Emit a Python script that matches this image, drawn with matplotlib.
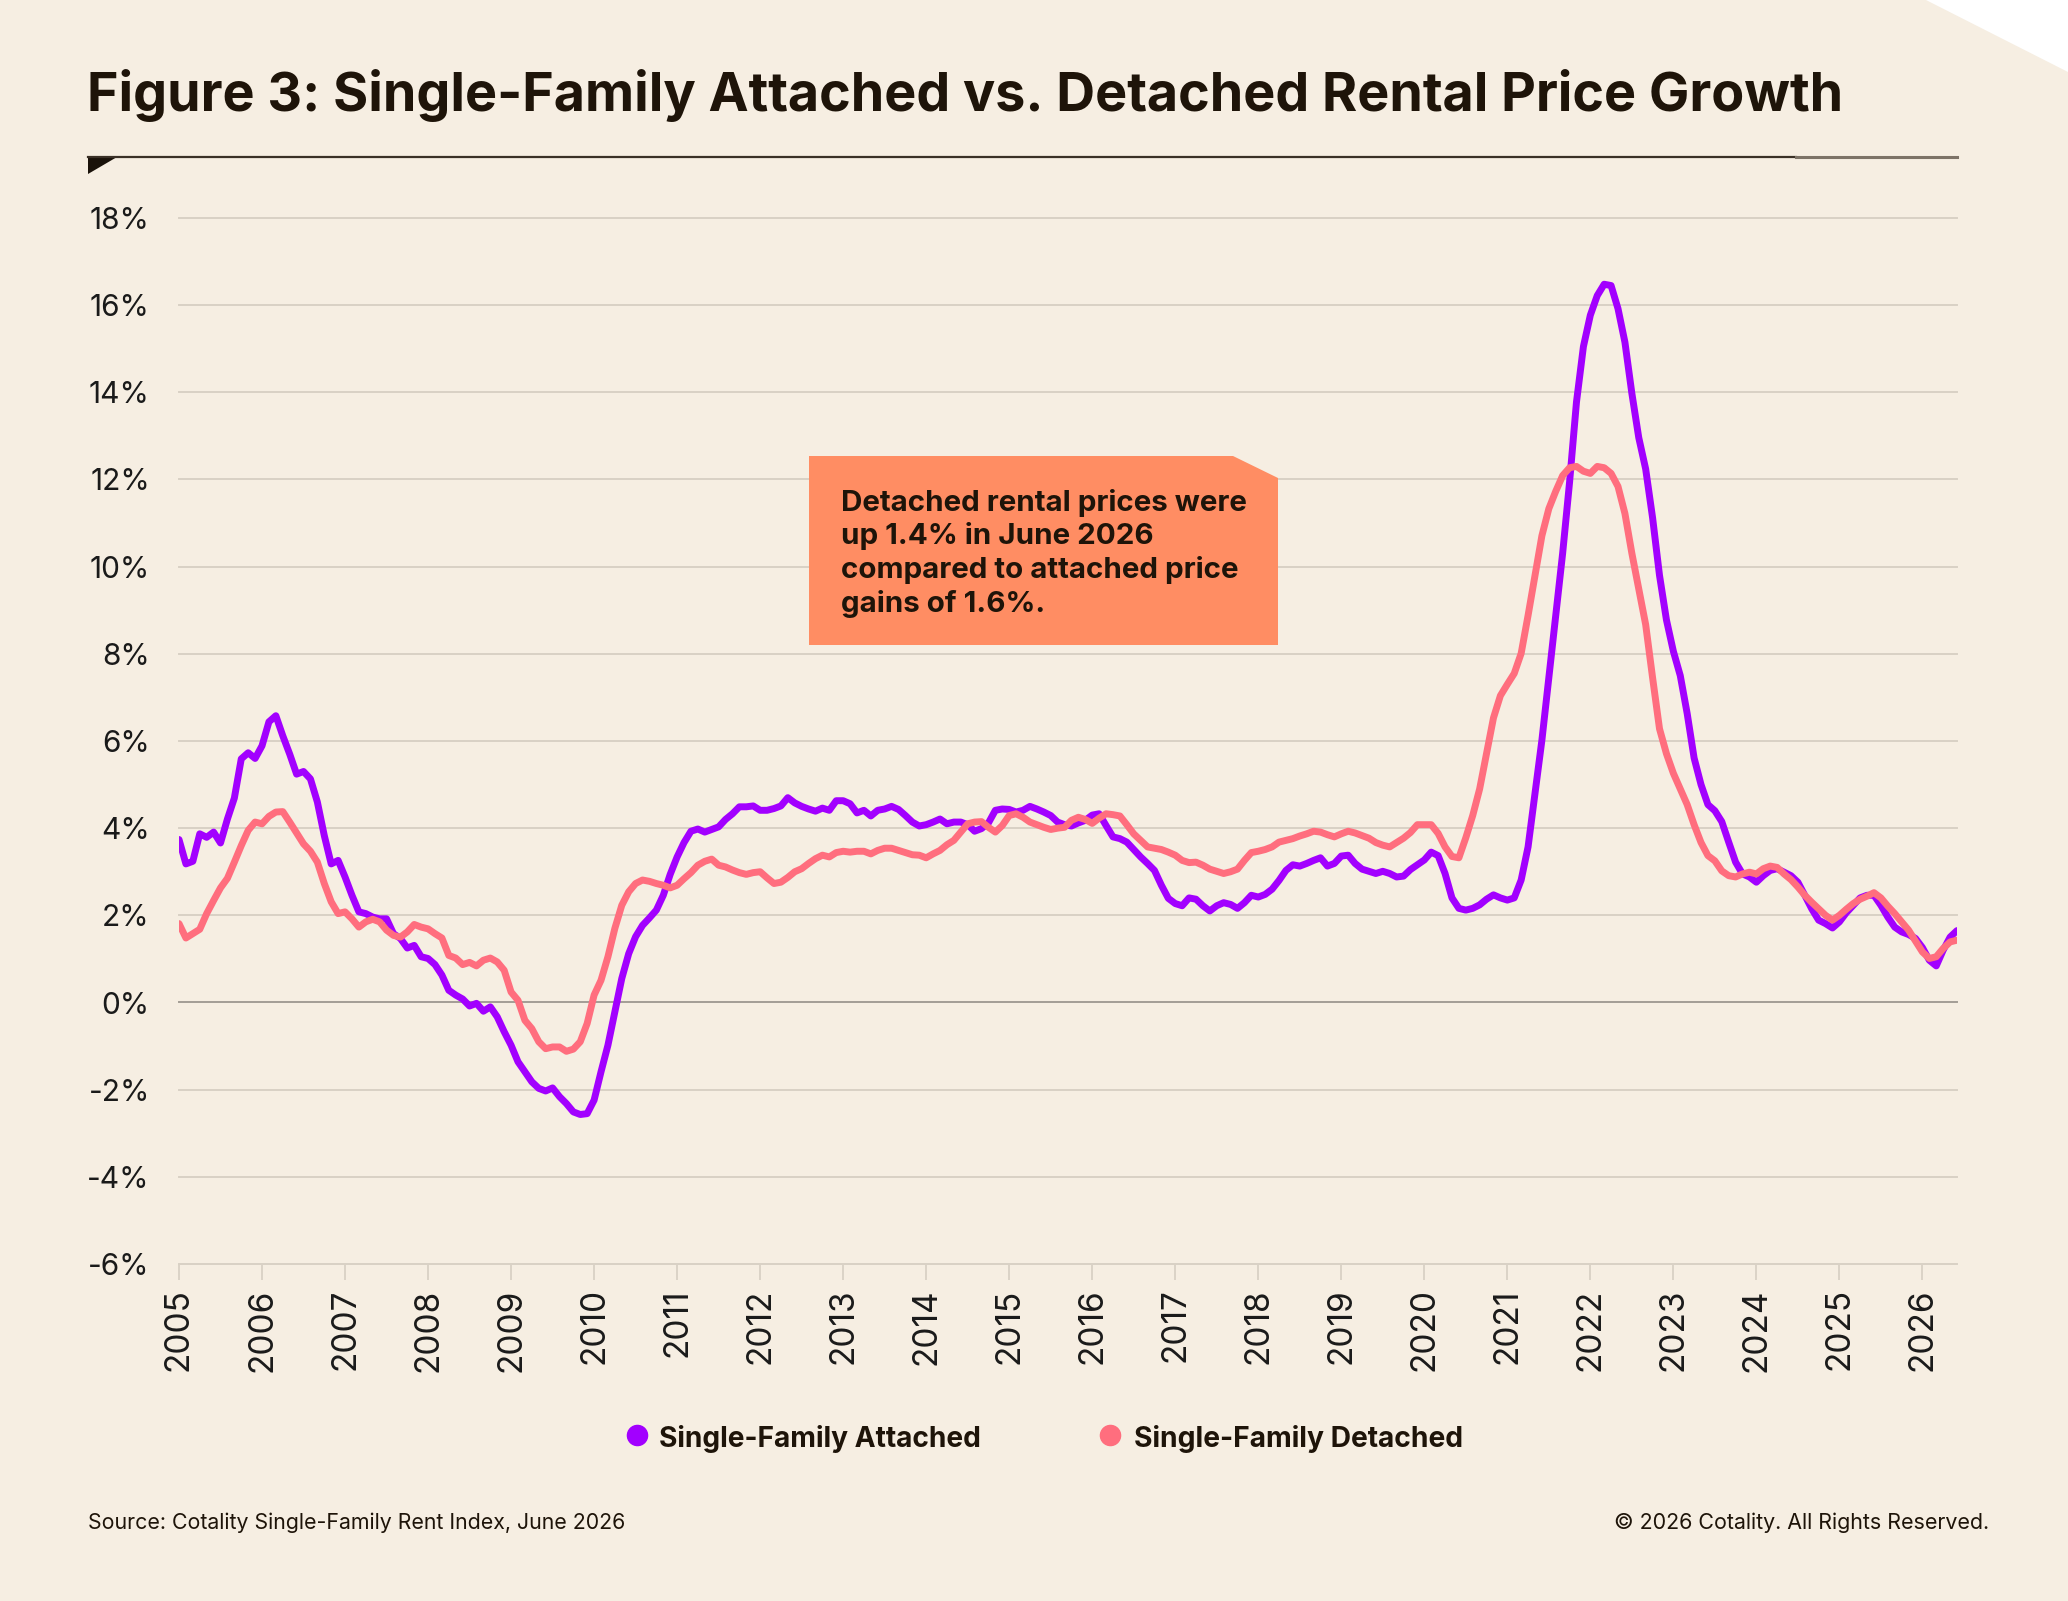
import numpy as np
import matplotlib.pyplot as plt
from matplotlib.lines import Line2D
from matplotlib.patches import Polygon

plt.rcParams['font.family'] = ['Inter', 'DejaVu Sans']

# monthly YoY rent growth (%), Jan 2005 .. Jun 2026
start_year = 2005
attached = [
    3.74, 3.18, 3.24, 3.87, 3.79, 3.91, 3.66, 4.21, 4.69, 5.59, 5.73, 5.60,   # 2005
    5.89, 6.44, 6.58, 6.12, 5.70, 5.24, 5.30, 5.13, 4.60, 3.83, 3.18, 3.26,   # 2006
    2.88, 2.46, 2.08, 2.04, 1.96, 1.92, 1.92, 1.58, 1.47, 1.25, 1.31, 1.05,   # 2007
    1.01, 0.87, 0.63, 0.28, 0.17, 0.08, -0.08, -0.02, -0.20, -0.10, -0.33, -0.67,  # 2008
    -0.98, -1.36, -1.59, -1.82, -1.97, -2.03, -1.96, -2.16, -2.32, -2.51, -2.57, -2.55,  # 2009
    -2.24, -1.59, -0.98, -0.21, 0.55, 1.12, 1.51, 1.77, 1.94, 2.12, 2.46, 2.94,  # 2010
    3.34, 3.67, 3.93, 3.98, 3.91, 3.97, 4.03, 4.20, 4.33, 4.49, 4.49, 4.51,   # 2011
    4.41, 4.41, 4.45, 4.51, 4.70, 4.58, 4.50, 4.44, 4.39, 4.46, 4.41, 4.63,   # 2012
    4.63, 4.56, 4.35, 4.41, 4.28, 4.41, 4.44, 4.50, 4.43, 4.29, 4.14, 4.05,   # 2013
    4.08, 4.14, 4.21, 4.10, 4.14, 4.14, 4.08, 3.93, 3.99, 4.12, 4.41, 4.44,   # 2014
    4.43, 4.37, 4.41, 4.50, 4.44, 4.37, 4.29, 4.14, 4.08, 4.05, 4.12, 4.18,   # 2015
    4.30, 4.33, 4.06, 3.80, 3.76, 3.68, 3.51, 3.34, 3.19, 3.03, 2.69, 2.39,   # 2016
    2.27, 2.22, 2.40, 2.37, 2.22, 2.10, 2.22, 2.29, 2.25, 2.16, 2.29, 2.46,   # 2017
    2.42, 2.48, 2.60, 2.80, 3.03, 3.16, 3.13, 3.19, 3.26, 3.32, 3.13, 3.19,   # 2018
    3.36, 3.38, 3.19, 3.06, 3.01, 2.96, 3.01, 2.96, 2.88, 2.90, 3.05, 3.16,   # 2019
    3.27, 3.45, 3.37, 2.96, 2.40, 2.16, 2.12, 2.16, 2.24, 2.37, 2.47, 2.40,   # 2020
    2.35, 2.40, 2.81, 3.57, 4.80, 6.02, 7.45, 8.88, 10.31, 11.94, 13.78, 15.05,  # 2021
    15.77, 16.22, 16.48, 16.45, 15.92, 15.15, 13.98, 12.96, 12.24, 11.12, 9.80, 8.78,  # 2022
    8.06, 7.50, 6.63, 5.61, 5.00, 4.54, 4.40, 4.15, 3.68, 3.22, 2.95, 2.88,   # 2023
    2.76, 2.91, 3.03, 3.07, 2.99, 2.91, 2.76, 2.46, 2.15, 1.89, 1.81, 1.71,   # 2024
    1.85, 2.06, 2.23, 2.40, 2.46, 2.46, 2.23, 1.96, 1.73, 1.62, 1.56, 1.47,   # 2025
    1.26, 0.97, 0.84, 1.20, 1.50, 1.65,                                       # 2026
]
detached = [
    1.81, 1.48, 1.58, 1.68, 2.04, 2.34, 2.63, 2.85, 3.22, 3.60, 3.95, 4.14,   # 2005
    4.10, 4.27, 4.37, 4.38, 4.14, 3.89, 3.64, 3.47, 3.22, 2.73, 2.31, 2.04,   # 2006
    2.08, 1.92, 1.73, 1.85, 1.91, 1.85, 1.66, 1.54, 1.50, 1.62, 1.79, 1.73,   # 2007
    1.69, 1.58, 1.48, 1.08, 1.02, 0.87, 0.92, 0.84, 0.97, 1.02, 0.93, 0.74,   # 2008
    0.24, 0.05, -0.41, -0.60, -0.90, -1.06, -1.02, -1.02, -1.12, -1.07, -0.90, -0.48,  # 2009
    0.17, 0.51, 1.05, 1.70, 2.23, 2.54, 2.73, 2.81, 2.78, 2.73, 2.69, 2.63,   # 2010
    2.69, 2.84, 2.98, 3.15, 3.24, 3.29, 3.15, 3.11, 3.04, 2.98, 2.94, 2.98,   # 2011
    3.00, 2.86, 2.73, 2.76, 2.87, 3.00, 3.07, 3.19, 3.30, 3.38, 3.34, 3.44,   # 2012
    3.47, 3.45, 3.47, 3.47, 3.41, 3.49, 3.54, 3.54, 3.49, 3.44, 3.39, 3.38,   # 2013
    3.32, 3.41, 3.49, 3.62, 3.72, 3.91, 4.10, 4.14, 4.15, 4.02, 3.91, 4.06,   # 2014
    4.29, 4.33, 4.25, 4.14, 4.08, 4.02, 3.97, 4.00, 4.02, 4.18, 4.25, 4.20,   # 2015
    4.11, 4.23, 4.33, 4.31, 4.28, 4.08, 3.87, 3.72, 3.57, 3.54, 3.51, 3.45,   # 2016
    3.38, 3.26, 3.21, 3.22, 3.15, 3.06, 3.01, 2.96, 3.00, 3.06, 3.26, 3.44,   # 2017
    3.47, 3.51, 3.57, 3.68, 3.72, 3.76, 3.82, 3.87, 3.93, 3.91, 3.85, 3.80,   # 2018
    3.87, 3.93, 3.89, 3.83, 3.77, 3.67, 3.61, 3.57, 3.67, 3.77, 3.90, 4.08,   # 2019
    4.08, 4.08, 3.88, 3.57, 3.35, 3.32, 3.78, 4.29, 4.90, 5.71, 6.53, 7.04,   # 2020
    7.30, 7.55, 8.01, 8.88, 9.80, 10.71, 11.33, 11.73, 12.09, 12.27, 12.30, 12.19,  # 2021
    12.14, 12.30, 12.27, 12.14, 11.84, 11.22, 10.31, 9.49, 8.67, 7.45, 6.28, 5.71,  # 2022
    5.26, 4.90, 4.54, 4.08, 3.67, 3.37, 3.25, 3.02, 2.91, 2.88, 2.95, 2.99,   # 2023
    2.95, 3.07, 3.13, 3.10, 2.95, 2.82, 2.65, 2.46, 2.30, 2.15, 2.00, 1.89,   # 2024
    2.00, 2.14, 2.27, 2.37, 2.44, 2.52, 2.40, 2.21, 2.04, 1.85, 1.66, 1.41,   # 2025
    1.16, 1.01, 1.05, 1.24, 1.39, 1.43,                                       # 2026
]
year_ticks = list(range(2005, 2027))
pct_ticks = list(range(-6, 19, 2))

title = 'Figure 3: Single-Family Attached vs. Detached Rental Price Growth'
note_lines = ['Detached rental prices were', 'up 1.4% in June 2026',
              'compared to attached price', 'gains of 1.6%.']
series_names = ['Single-Family Attached', 'Single-Family Detached']
source = 'Source: Cotality Single-Family Rent Index, June 2026'
rights = '\u00a9 2026 Cotality. All Rights Reserved.'

bg = '#F6EEE2'
ink = '#1E1409'
purple = '#A200FF'
pink = '#FF6E7E'
grid_c = '#D9D1C5'
zero_c = '#A39D95'
box_c = '#FF8D63'

W, H = 2068, 1601
def fx(px):
    return px / W
def fy(py):
    return 1 - py / H

fig = plt.figure(figsize=(W / 100, H / 100), dpi=100, facecolor=bg)
renderer = fig.canvas.get_renderer()

def fit(t, width_px):
    bb = t.get_window_extent(renderer)
    t.set_fontsize(t.get_fontsize() * width_px / bb.width)

# white corner wedge
fig.add_artist(Polygon([(fx(1926), fy(0)), (fx(2068), fy(0)), (fx(2068), fy(72))],
                       closed=True, transform=fig.transFigure, color='white', lw=0))

t = fig.text(fx(87), fy(96), title, fontsize=40, weight='bold', color=ink, va='center')
fit(t, 1758)

# rule under title
fig.add_artist(Line2D([fx(88), fx(1796)], [fy(157), fy(157)], transform=fig.transFigure,
                      color='#3A3026', lw=1.6))
fig.add_artist(Line2D([fx(1796), fx(1957)], [fy(157), fy(157)], transform=fig.transFigure,
                      color='#7D7367', lw=2.2))
fig.add_artist(Polygon([(fx(88), fy(157)), (fx(117), fy(157)), (fx(88), fy(174))],
                       closed=True, transform=fig.transFigure, color='#1A120A', lw=0))

ax = fig.add_axes([fx(179), fy(1264), fx(1957) - fx(179), fy(218) - fy(1264)])
ax.set_facecolor('none')
for s in ax.spines.values():
    s.set_visible(False)

for v in pct_ticks:
    ax.axhline(v, color=zero_c if v == 0 else grid_c, lw=1.4, zorder=1, clip_on=False)

x = start_year + np.arange(len(attached)) / 12
ax.plot(x, attached, color=purple, lw=5, solid_joinstyle='round', solid_capstyle='round', zorder=3)
ax.plot(x, detached, color=pink, lw=5, solid_joinstyle='round', solid_capstyle='round', zorder=4)

ax.set_xlim(start_year, x[-1])
ax.set_ylim(-6, 18)
ax.set_yticks(pct_ticks)
ax.set_yticklabels([f'{v}%' for v in pct_ticks])
ax.set_xticks(year_ticks)
ax.set_xticklabels([str(y) for y in year_ticks], rotation=90)
ax.tick_params(axis='y', length=0, pad=21, labelsize=21.5, labelcolor='#1A1A1A')
ax.tick_params(axis='x', length=11.5, width=1.3, color=grid_c, pad=6, labelsize=24,
               labelcolor='#1A1A1A')

# callout box
fig.add_artist(Polygon([(fx(809), fy(456)), (fx(1233), fy(456)), (fx(1278), fy(478)),
                        (fx(1278), fy(645)), (fx(809), fy(645))],
                       closed=True, transform=fig.transFigure, color=box_c, lw=0, zorder=5))
for i, line in enumerate(note_lines):
    t = fig.text(fx(841), fy(503 + 33.5 * i), line, fontsize=18.5, weight='bold', color=ink,
                 va='center', zorder=6)
    if i == 0:
        fit(t, 407)
        note_size = t.get_fontsize()
    else:
        t.set_fontsize(note_size)

# legend
for name, col, dot_x, txt_x in [(series_names[0], purple, 637, 659),
                                (series_names[1], pink, 1110, 1134)]:
    fig.add_artist(Line2D([fx(dot_x)], [fy(1435)], transform=fig.transFigure, marker='o',
                          ms=14.5, color=col, lw=0))
    t = fig.text(fx(txt_x), fy(1436), name, fontsize=20, weight='bold', color=ink,
                 va='center_baseline')
    fit(t, 323 if col == purple else 330)

t = fig.text(fx(88), fy(1521), source, fontsize=15, color=ink, va='center_baseline')
fit(t, 539)
t = fig.text(fx(1989), fy(1521), rights, fontsize=15, color=ink, va='center_baseline', ha='right')
fit(t, 377)

fig.savefig('out.png', dpi=100, facecolor=bg)
